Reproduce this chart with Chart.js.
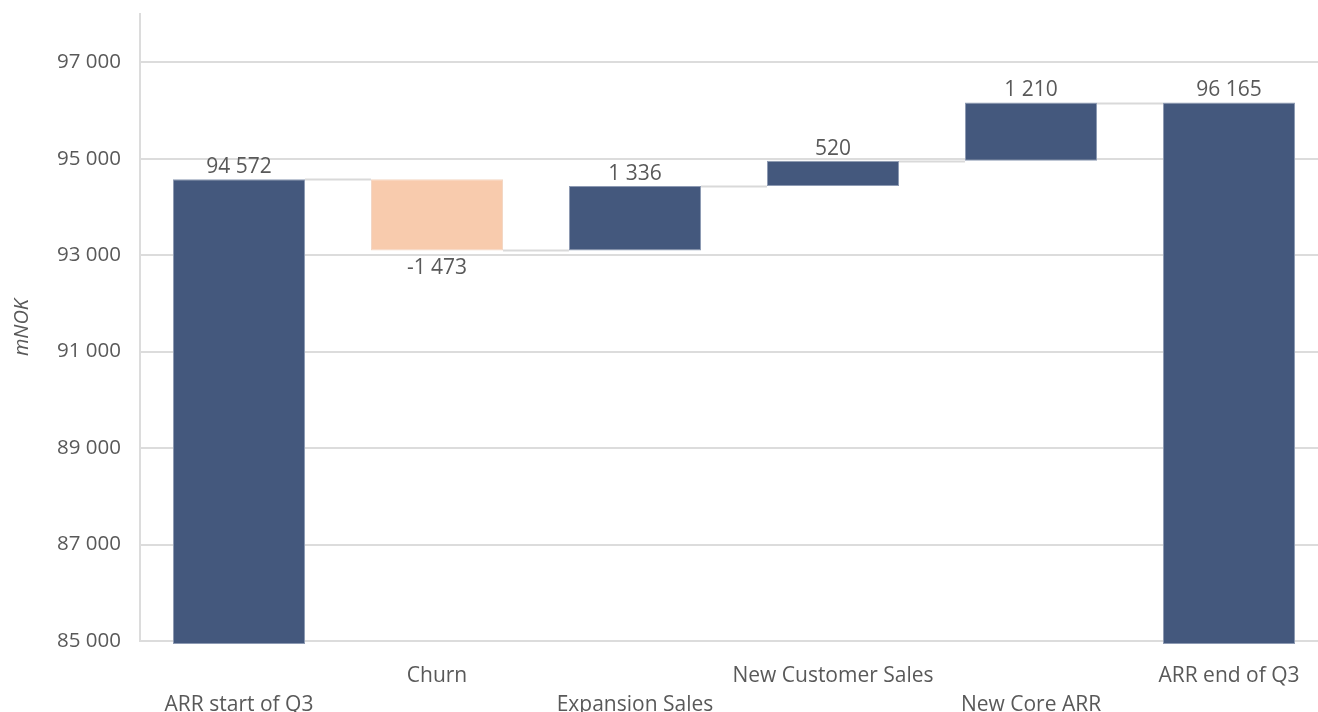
<!DOCTYPE html>
<html lang="en">
  <head>
    <meta charset="UTF-8" />
    <title>ARR bridge Q3</title>
    <script src="https://cdn.jsdelivr.net/npm/chart.js"></script>
    <style>
      html, body { margin: 0; padding: 0; background: #fff; overflow: hidden; }
    </style>
  </head>
  <body>
    <canvas id="myChart" width="1340" height="712"></canvas>
  </body>
  <script>
    const categories = ["ARR start of Q3", "Churn", "Expansion Sales", "New Customer Sales", "New Core ARR", "ARR end of Q3"];
    const changes = [94572, -1473, 1336, 520, 1210, 96165];
    const isTotal = [true, false, false, false, false, true];
    const tickValues = [85000, 87000, 89000, 91000, 93000, 95000, 97000];
    const yMin = 85000;
    const yMax = 98000;
    const barFloor = 84940;

    const fmt = (v) => {
      const s = Math.abs(v).toString().replace(/\B(?=(\d{3})+(?!\d))/g, " ");
      return (v < 0 ? "-" : "") + s;
    };

    // floating [from, to] for each bar
    const ranges = [];
    let running = 0;
    changes.forEach((c, i) => {
      if (isTotal[i]) {
        running = c;
        ranges.push([barFloor, c]);
      } else {
        ranges.push([running, running + c]);
        running += c;
      }
    });
    const levels = ranges.map((r) => r[1]);

    // staggered labels: odd ones on the second line
    const labels = categories.map((c, i) => (i % 2 === 0 ? ["", c] : [c, ""]));

    const waterfallExtras = {
      id: "waterfallExtras",
      afterDatasetsDraw(chart) {
        const c = chart.ctx;
        const y = chart.scales.y;
        const bars = chart.getDatasetMeta(0).data;
        c.save();
        // connectors
        c.strokeStyle = "#d9d9d9";
        c.lineWidth = 2;
        for (let i = 0; i < bars.length - 1; i++) {
          const a = bars[i], b = bars[i + 1];
          const py = Math.round(y.getPixelForValue(levels[i])) + 0.5;
          c.beginPath();
          c.moveTo(a.x + a.width / 2, py);
          c.lineTo(b.x - b.width / 2, py);
          c.stroke();
        }
        // value labels
        c.fillStyle = "#595959";
        c.font = "21px 'Open Sans'";
        c.textAlign = "center";
        c.textBaseline = "middle";
        bars.forEach((bar, i) => {
          const v = changes[i];
          if (v < 0) {
            c.fillText(fmt(v), bar.x, y.getPixelForValue(ranges[i][1]) + 18);
          } else {
            c.fillText(fmt(v), bar.x, y.getPixelForValue(ranges[i][1]) - 12);
          }
        });
        c.restore();
      },
    };

    new Chart(document.getElementById("myChart"), {
      type: "bar",
      data: {
        labels: labels,
        datasets: [
          {
            data: ranges,
            backgroundColor: changes.map((v) => (v < 0 ? "#f8cbad" : "#44587d")),
            borderColor: changes.map((v) => (v < 0 ? "#f3d6c3" : "#8d9ab3")),
            borderWidth: 1,
            borderSkipped: false,
            barPercentage: 0.667,
            categoryPercentage: 1,
            clip: false,
          },
        ],
      },
      options: {
        responsive: false,
        animation: false,
        layout: { padding: { top: 14, right: 12, left: 0, bottom: 0 } },
        plugins: {
          legend: { display: false },
          tooltip: { enabled: false },
        },
        scales: {
          x: {
            grid: { display: false, drawTicks: false },
            border: { display: false },
            ticks: {
              color: "#595959",
              font: { family: "Open Sans", size: 21, lineHeight: 1.38 },
              padding: 21,
              maxRotation: 0,
              autoSkip: false,
            },
            afterFit: (s) => { s.height = 71; },
          },
          y: {
            min: yMin,
            max: yMax,
            afterBuildTicks: (s) => { s.ticks = tickValues.map((v) => ({ value: v })); },
            grid: { color: "#dcdcdc", lineWidth: 2, drawTicks: false },
            border: { display: true, color: "#dcdcdc", width: 2 },
            ticks: {
              color: "#595959",
              font: { family: "Open Sans", size: 20.5 },
              padding: 19,
              callback: (v) => fmt(v),
            },
            title: {
              display: true,
              text: "mNOK",
              color: "#595959",
              font: { family: "Open Sans", size: 20, style: "italic" },
              padding: { top: 10, bottom: 0 },
            },
            afterFit: (s) => {
              s.width = 140;
              s.paddingTop = 0;
              s.paddingBottom = 0;
            },
          },
        },
      },
      plugins: [waterfallExtras],
    });
  </script>
</html>
